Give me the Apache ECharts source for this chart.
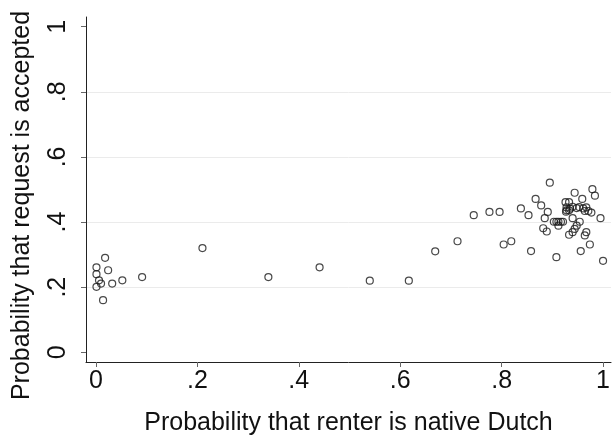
<!DOCTYPE html>
<html>

<head>
    <meta charset="UTF-8">
    <title>Renter scatter</title>
    <script src="https://cdn.jsdelivr.net/npm/echarts@6/dist/echarts.min.js"></script>
    <style>
        html, body { margin: 0; padding: 0; background: #fff; }
        #chart { width: 613px; height: 441px; }
    </style>
</head>

<body>
    <div id="chart"></div>
    <script>
        // x: probability that renter is native Dutch, y: probability that request is accepted
        const leftX = [0.001, 0.001, 0.006, 0.010, 0.001, 0.018, 0.024, 0.032, 0.052, 0.091, 0.014, 0.210];
        const leftY = [0.261, 0.240, 0.221, 0.211, 0.201, 0.290, 0.252, 0.211, 0.221, 0.231, 0.160, 0.320];

        const midX = [0.340, 0.441, 0.540, 0.617, 0.669, 0.713];
        const midY = [0.231, 0.261, 0.220, 0.220, 0.310, 0.341];

        const rightX = [0.745, 0.776, 0.796, 0.804, 0.819, 0.838, 0.853, 0.858, 0.867, 0.878,
            0.882, 0.885, 0.889, 0.891, 0.895, 0.903, 0.908, 0.912, 0.917, 0.921,
            0.912, 0.908, 0.927, 0.926, 0.933, 0.928, 0.935, 0.940, 0.948, 0.953,
            0.961, 0.967, 0.928, 0.933, 0.940, 0.944, 0.954, 0.948, 0.944, 0.940,
            0.933, 0.959, 0.964, 0.971, 0.977, 0.967, 0.964, 0.956, 0.974, 0.979,
            0.984, 0.995, 1.000];
        const rightY = [0.421, 0.431, 0.431, 0.331, 0.341, 0.442, 0.421, 0.311, 0.471, 0.451,
            0.381, 0.412, 0.371, 0.431, 0.521, 0.401, 0.401, 0.401, 0.401, 0.401,
            0.389, 0.292, 0.432, 0.461, 0.461, 0.445, 0.441, 0.447, 0.443, 0.446,
            0.442, 0.445, 0.436, 0.436, 0.412, 0.490, 0.401, 0.389, 0.379, 0.369,
            0.361, 0.471, 0.434, 0.434, 0.429, 0.369, 0.359, 0.311, 0.331, 0.501,
            0.481, 0.412, 0.281];

        const tickValues = [0, 0.2, 0.4, 0.6, 0.8, 1];
        const tickLabels = ['0', '.2', '.4', '.6', '.8', '1'];

        const xs = leftX.concat(midX, rightX);
        const ys = leftY.concat(midY, rightY);
        const points = xs.map((x, i) => [x, ys[i]]);

        const fontFamily = '"Liberation Sans", Arial, sans-serif';
        const labelFor = v => {
            const i = tickValues.findIndex(t => Math.abs(t - v) < 1e-6);
            return i < 0 ? '' : tickLabels[i];
        };

        const chart = echarts.init(document.getElementById('chart'));
        chart.setOption({
            backgroundColor: '#fff',
            animation: false,
            grid: { left: 86, right: 0, top: 17, bottom: 69, containLabel: false },
            xAxis: {
                type: 'value',
                min: -0.01965,
                max: 1.01572,
                name: 'Probability that renter is native Dutch',
                nameLocation: 'middle',
                nameGap: 49,
                nameTextStyle: { fontFamily, fontSize: 25, color: '#111' },
                axisLine: { show: true, onZero: false, lineStyle: { color: '#222', width: 1 } },
                axisTick: { show: true, length: 5, customValues: tickValues, lineStyle: { color: '#666' } },
                axisLabel: {
                    customValues: tickValues,
                    formatter: labelFor,
                    margin: 7,
                    fontFamily, fontSize: 25, color: '#111'
                },
                splitLine: { show: false }
            },
            yAxis: {
                type: 'value',
                min: -0.02985,
                max: 1.02985,
                name: 'Probability that request is accepted',
                nameLocation: 'middle',
                nameRotate: 90,
                nameGap: 51,
                nameTextStyle: { fontFamily, fontSize: 25, color: '#111', padding: [0, 32, 0, 0] },
                axisLine: { show: true, onZero: false, lineStyle: { color: '#222', width: 1 } },
                axisTick: { show: true, length: 5, customValues: tickValues, lineStyle: { color: '#666' } },
                axisLabel: {
                    customValues: tickValues,
                    formatter: labelFor,
                    rotate: 90,
                    margin: 15,
                    fontFamily, fontSize: 25, color: '#111'
                },
                splitLine: {
                    show: true,
                    lineStyle: {
                        color: ['transparent', '#ebebeb', '#ebebeb', '#ebebeb', '#ebebeb', 'transparent'],
                        width: 1
                    }
                }
            },
            series: [{
                type: 'scatter',
                data: points,
                symbol: 'circle',
                symbolSize: 7,
                itemStyle: { color: 'transparent', borderColor: '#1a1a1a', borderWidth: 1.2 }
            }]
        });
    </script>
</body>

</html>
